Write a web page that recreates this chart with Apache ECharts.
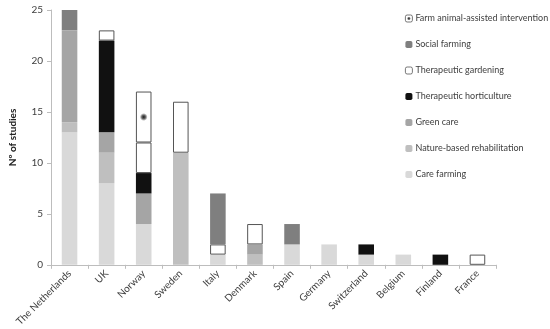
<!DOCTYPE html>
<html><head><meta charset="utf-8">
<script src="https://cdn.jsdelivr.net/npm/echarts@6/dist/echarts.min.js"></script>
<style>html,body{margin:0;padding:0;background:#fff}#c{width:550px;height:329px}</style>
</head><body><div id="c"></div>
<script>
const countries = ['The Netherlands','UK','Norway','Sweden','Italy','Denmark','Spain','Germany','Switzerland','Belgium','Finland','France'];
const careFarming        = [13, 8, 4, 0, 1, 0, 2, 2, 1, 1, 0, 0];
const natureBased        = [1, 3, 0, 11, 0, 1, 0, 0, 0, 0, 0, 0];
const greenCare          = [9, 2, 3, 0, 0, 1, 0, 0, 0, 0, 0, 0];
const therHorticulture   = [0, 9, 2, 0, 0, 0, 0, 0, 1, 0, 1, 0];
const therGardening      = [0, 1, 3, 5, 1, 2, 0, 0, 0, 0, 0, 1];
const socialFarming      = [2, 0, 0, 0, 5, 0, 2, 0, 0, 0, 0, 0];
const farmAnimal         = [0, 0, 5, 0, 0, 0, 0, 0, 0, 0, 0, 0];
const yTicks = [0, 5, 10, 15, 20, 25];

const FONT = 'Lato';
const nz = a => a.map(v => v === 0 ? null : v);
const mk = (name, data, itemStyle) => ({
  name, type: 'bar', stack: 'all', data: nz(data), barWidth: '42%', itemStyle
});
const chart = echarts.init(document.getElementById('c'));
chart.setOption({
  animation: false,
  textStyle: { fontFamily: FONT },
  grid: { left: 46, right: 54, top: 10, bottom: 63, containLabel: false },
  legend: {
    orient: 'vertical', left: 400, top: 9, itemWidth: 7, itemHeight: 7, itemGap: 17,
    itemStyle: { borderWidth: 0.8 },
    textStyle: { fontFamily: FONT, fontSize: 9, color: '#404040', padding: [0,0,0,-2] },
    data: ['Farm animal-assisted intervention','Social farming','Therapeutic gardening','Therapeutic horticulture','Green care','Nature-based rehabilitation','Care farming']
  },
  xAxis: {
    type: 'category', data: countries,
    axisLine: { lineStyle: { color: '#bdbdbd' } },
    axisTick: { show: true, length: 4, lineStyle: { color: '#bdbdbd' } },
    axisLabel: { rotate: 45, interval: 0, fontSize: 10, color: '#404040', fontFamily: FONT, margin: 7 }
  },
  yAxis: {
    type: 'value', min: 0, max: 25, interval: 5,
    name: 'Nº of studies', nameLocation: 'middle', nameGap: 33, nameRotate: 90,
    nameTextStyle: { fontFamily: FONT, fontSize: 10, fontWeight: 'bold', color: '#222' },
    axisLine: { show: true, lineStyle: { color: '#bdbdbd' } },
    axisTick: { show: true, length: 4, lineStyle: { color: '#bdbdbd' } },
    splitLine: { show: false },
    axisLabel: { fontSize: 10, color: '#404040', fontFamily: FONT, margin: 8,
      formatter: v => yTicks.includes(v) ? String(v) : '' }
  },
  series: [
    mk('Care farming', careFarming, { color: '#d9d9d9' }),
    mk('Nature-based rehabilitation', natureBased, { color: '#bfbfbf' }),
    mk('Green care', greenCare, { color: '#a5a5a5' }),
    mk('Therapeutic horticulture', therHorticulture, { color: '#111111' }),
    mk('Therapeutic gardening', therGardening, { color: '#ffffff', borderColor: '#555555', borderWidth: 1 }),
    mk('Social farming', socialFarming, { color: '#7f7f7f' }),
    mk('Farm animal-assisted intervention', farmAnimal, {
      color: { type: 'radial', x: 0.5, y: 0.5, r: 0.5, colorStops: [
        { offset: 0, color: '#1a1a1a' }, { offset: 0.25, color: '#6a6a6a' }, { offset: 0.5, color: '#ffffff' }, { offset: 1, color: '#ffffff' } ] },
      borderColor: '#555555', borderWidth: 1 })
  ]
});
</script></body></html>
